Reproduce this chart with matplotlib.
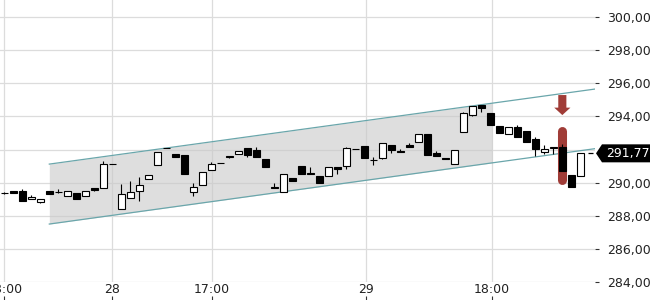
import numpy as np
import matplotlib
matplotlib.use("Agg")
import matplotlib.pyplot as plt
from matplotlib.patches import Polygon, FancyArrow

# candles, one per period
opens = [289.35, 289.47, 289.51, 288.99, 288.81, 289.51, 289.42, 289.17, 289.36, 289.19,
         289.69, 289.66, 291.10, 288.43, 289.05, 289.48, 290.20, 291.05, 292.07, 291.73,
         291.69, 289.42, 289.84, 290.74, 291.16, 291.63, 291.75, 292.07, 291.97, 291.43,
         289.70, 289.42, 290.26, 291.00, 290.57, 290.40, 290.40, 290.96, 291.00, 292.01,
         292.21, 291.36, 291.47, 292.25, 291.93, 292.27, 292.43, 292.94, 291.81, 291.43,
         291.12, 293.04, 294.10, 294.69, 294.20, 293.40, 292.92, 293.34, 293.10, 292.62,
         291.87, 292.12, 292.13, 290.46, 290.42]
highs = [289.45, 289.47, 289.63, 289.23, 288.99, 289.51, 289.62, 289.49, 289.36, 289.51,
         289.69, 291.31, 291.10, 289.92, 290.10, 290.34, 290.44, 291.85, 292.07, 291.73,
         291.69, 289.96, 290.62, 291.23, 291.16, 291.63, 291.89, 292.07, 292.17, 291.43,
         289.99, 290.50, 290.26, 291.00, 290.94, 290.40, 290.92, 290.96, 292.17, 292.01,
         292.21, 291.57, 292.37, 292.25, 292.03, 292.37, 292.92, 292.94, 291.89, 291.43,
         291.97, 294.26, 294.63, 294.69, 294.20, 293.40, 293.38, 293.48, 293.10, 292.74,
         292.25, 292.14, 292.31, 290.46, 291.77]
lows = [289.32, 289.37, 288.91, 288.99, 288.75, 289.30, 289.36, 289.17, 288.99, 289.19,
        289.51, 289.66, 291.10, 288.43, 289.05, 288.87, 290.20, 291.05, 292.07, 291.57,
        290.50, 289.21, 289.84, 290.74, 291.16, 291.47, 291.75, 291.53, 291.53, 290.96,
        289.68, 289.42, 290.12, 290.54, 290.55, 289.96, 290.40, 290.50, 290.80, 292.01,
        291.47, 291.06, 291.41, 291.77, 291.83, 292.13, 292.43, 291.65, 291.59, 291.43,
        291.12, 293.04, 294.04, 294.28, 293.50, 293.01, 292.92, 292.74, 292.47, 291.63,
        291.73, 291.71, 290.68, 289.75, 290.38]
closes = [289.37, 289.37, 288.91, 289.15, 288.99, 289.30, 289.44, 289.49, 288.99, 289.51,
          289.57, 291.12, 291.10, 289.31, 289.43, 289.84, 290.44, 291.85, 292.07, 291.57,
          290.50, 289.72, 290.62, 291.11, 291.16, 291.55, 291.89, 291.69, 291.53, 290.96,
          289.68, 290.50, 290.12, 290.54, 290.55, 289.96, 290.92, 290.84, 292.07, 292.01,
          291.47, 291.38, 292.37, 291.97, 291.83, 292.13, 292.92, 291.65, 291.59, 291.43,
          291.97, 294.19, 294.63, 294.49, 293.50, 293.01, 293.38, 292.74, 292.47, 292.01,
          292.01, 292.14, 290.68, 289.75, 291.77]

# trend channel (start / end of the two lines) and where the grey band stops
chan_x = [5.0, 65.6]
chan_upper = [291.12, 295.65]
chan_lower = [287.50, 292.05]
band_end = 54.2

# time axis
tick_pos = [0, 12, 23.1, 40.2, 54.2]
tick_labels = ["18:00", "28", "17:00", "29", "18:00"]
y_ticks = [284, 286, 288, 290, 292, 294, 296, 298, 300]

# the marked candle and the signal arrow
mark_idx = 62
mark_range = [290.13, 293.11]
arrow_top = 295.29
arrow_tip = 294.08
last_price = closes[-1]

x = np.arange(len(opens))
o = np.array(opens)
c = np.array(closes)

fig = plt.figure(figsize=(6.5, 3), dpi=100)
ax = fig.add_axes([0, 0.06, 595 / 650, 0.94])
ax.set_xlim(-0.478, 65.63)
ax.set_ylim(284, 301.03)

# grid
ax.set_xticks(tick_pos)
ax.set_xticklabels(tick_labels)
ax.set_yticks(y_ticks)
ax.set_yticklabels([f"{v:.2f}".replace(".", ",") for v in y_ticks])
ax.grid(True, color="#dcdcdc", linewidth=0.9)
ax.set_axisbelow(True)
for s in ax.spines.values():
    s.set_visible(False)
ax.tick_params(axis="x", length=0, pad=1.0, labelsize=9, labelcolor="#222222")
ax.tick_params(axis="y", left=False, labelleft=False, right=True, labelright=True,
               length=3, width=0.8, color="#333333", pad=6, labelsize=9, labelcolor="#222222")
# the 292 tick sits under the last-price label
for t in ax.yaxis.get_major_ticks():
    if abs(t.get_loc() - 292) < 0.01:
        t.tick2line.set_visible(False)
        t.label2.set_visible(False)

# little tick marks below the time labels
sec = ax.secondary_xaxis(-0.0638)
sec.set_xticks(tick_pos)
sec.set_xticklabels([])
sec.tick_params(direction="in", length=3, width=0.8, color="#333333")
sec.spines["bottom"].set_visible(False)

# channel band and lines
bx = np.array([chan_x[0], band_end])
ax.fill_between(bx, np.interp(bx, chan_x, chan_lower), np.interp(bx, chan_x, chan_upper),
                color="#c8c8c8", alpha=0.6, linewidth=0, zorder=1)
ax.plot(chan_x, chan_upper, color="#6aa6ab", linewidth=0.9, zorder=2)
ax.plot(chan_x, chan_lower, color="#6aa6ab", linewidth=0.9, zorder=2)

# highlight behind the marked candle
ax.plot([mark_idx, mark_idx], mark_range, color="#a03c37", linewidth=6.5,
        solid_capstyle="round", zorder=3)

# candles
ax.vlines(x, lows, highs, color="black", linewidth=0.8, zorder=4)
heights = np.maximum(np.abs(c - o), 0.03)
bottoms = np.minimum(o, c)
faces = ["white" if cl > op else "black" for op, cl in zip(o, c)]
ax.bar(x, heights, bottom=bottoms, width=0.74, color=faces, edgecolor="black",
       linewidth=0.8, zorder=5)

# signal arrow
ax.add_patch(FancyArrow(mark_idx, arrow_top, 0, arrow_tip - arrow_top, width=0.9,
                        head_width=1.8, head_length=0.45, length_includes_head=True,
                        color="#a03c37", linewidth=0, zorder=6))

# last price dash and label
ax.hlines(last_price, 64.9, 65.45, color="black", linewidth=0.9, zorder=6)
yf = fig.transFigure.inverted().transform(ax.transData.transform((0, last_price)))[1]
h = 9 / 300
box = Polygon([(596 / 650, yf), (602 / 650, yf + h), (1.0, yf + h), (1.0, yf - h),
               (602 / 650, yf - h)], closed=True, facecolor="black", edgecolor="none",
              transform=fig.transFigure, zorder=10)
fig.add_artist(box)
fig.text(606 / 650, yf, f"{last_price:.2f}".replace(".", ","), color="white",
         fontsize=9, va="center", ha="left", zorder=11)

fig.savefig("out.png", dpi=100)
